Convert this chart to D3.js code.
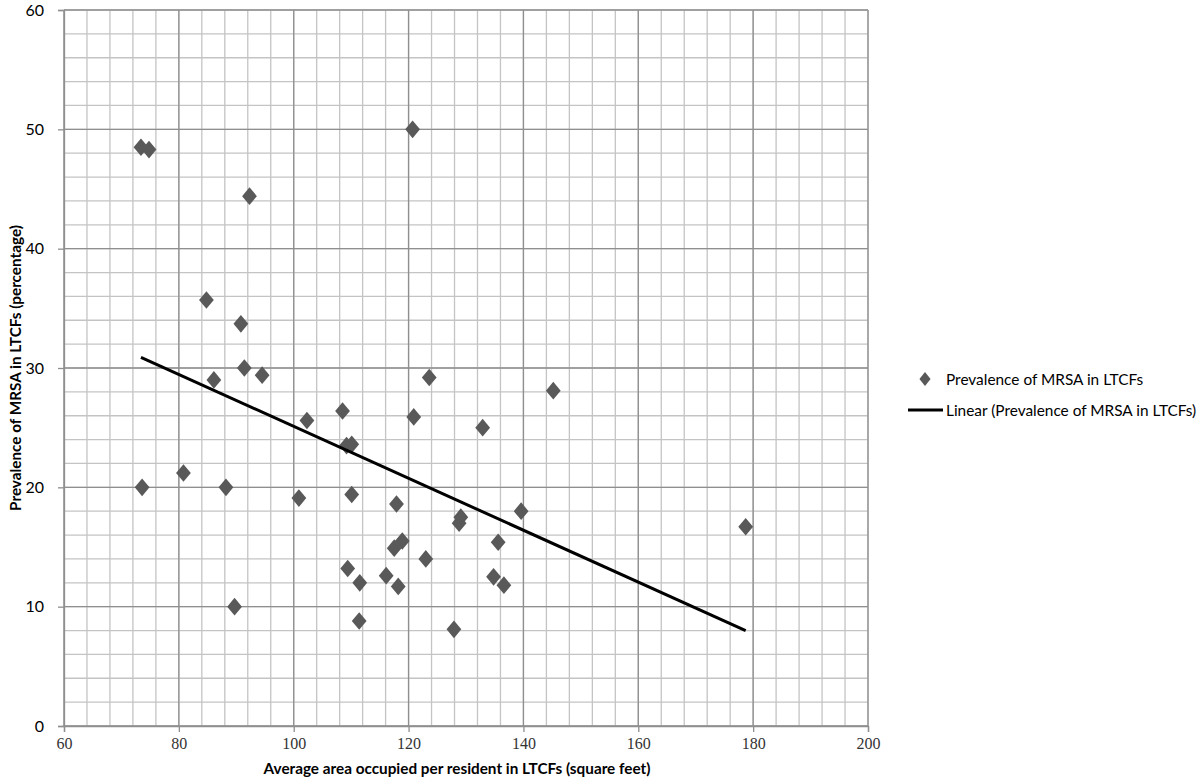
<!DOCTYPE html>
<html>
<head>
<meta charset="utf-8">
<script src="https://cdn.jsdelivr.net/npm/d3@7"></script>
<style>
  body { margin: 0; background: #fff; }
  svg { display: block; }
</style>
</head>
<body>
<svg id="chart" width="1200" height="780"></svg>
<script>
// area per resident (sq ft) and MRSA prevalence (%)
const areaValues = [73.4, 74.8, 120.7, 92.3, 84.8, 90.8, 91.4, 94.5, 86.1, 80.8,
  73.6, 88.2, 89.7, 123.6, 145.2, 102.3, 108.5, 120.9, 132.9, 109.2,
  110.1, 100.9, 110.1, 117.9, 139.6, 129.1, 128.8, 118.9, 117.5, 135.6,
  123.0, 109.4, 111.5, 116.1, 118.2, 134.8, 136.6, 111.4, 127.9, 178.7];
const prevalenceValues = [48.5, 48.3, 50.0, 44.4, 35.7, 33.7, 30.0, 29.4, 29.0, 21.2,
  20.0, 20.0, 10.0, 29.2, 28.1, 25.6, 26.4, 25.9, 25.0, 23.5,
  23.6, 19.1, 19.4, 18.6, 18.0, 17.5, 17.0, 15.5, 14.9, 15.4,
  14.0, 13.2, 12.0, 12.6, 11.7, 12.5, 11.8, 8.8, 8.1, 16.7];
const xTicks = [60, 80, 100, 120, 140, 160, 180, 200];
const yTicks = [0, 10, 20, 30, 40, 50, 60];
const seriesName = 'Prevalence of MRSA in LTCFs';
const trendName = 'Linear (Prevalence of MRSA in LTCFs)';

const svg = d3.select('#chart');
const pLeft = 64, pRight = 868, pTop = 10, pBottom = 726;

const x = d3.scaleLinear().domain([60, 200]).range([pLeft, pRight]);
const y = d3.scaleLinear().domain([0, 60]).range([pBottom, pTop]);

// minor grid (every 4 on x, every 2 on y)
const g = svg.append('g');
g.selectAll('.vmin').data(d3.range(60, 200.1, 4)).join('line')
  .attr('x1', d => x(d)).attr('x2', d => x(d))
  .attr('y1', pTop).attr('y2', pBottom)
  .attr('stroke', '#c4c4c4').attr('stroke-width', 1.3);
g.selectAll('.hmin').data(d3.range(0, 60.1, 2)).join('line')
  .attr('y1', d => y(d)).attr('y2', d => y(d))
  .attr('x1', pLeft).attr('x2', pRight)
  .attr('stroke', '#c4c4c4').attr('stroke-width', 1.3);
// major grid
g.selectAll('.vmaj').data(xTicks).join('line')
  .attr('x1', d => x(d)).attr('x2', d => x(d))
  .attr('y1', pTop).attr('y2', pBottom)
  .attr('stroke', '#8f8f8f').attr('stroke-width', 1.3);
g.selectAll('.hmaj').data(yTicks).join('line')
  .attr('y1', d => y(d)).attr('y2', d => y(d))
  .attr('x1', pLeft).attr('x2', pRight)
  .attr('stroke', '#8f8f8f').attr('stroke-width', 1.3);

// axes
const yAxis = svg.append('g').attr('transform', `translate(${pLeft},0)`)
  .call(d3.axisLeft(y).tickValues(yTicks).tickSize(6).tickPadding(14));
yAxis.select('.domain').attr('stroke', '#8f8f8f').attr('stroke-width', 1.3);
yAxis.selectAll('.tick line').attr('stroke', '#8f8f8f').attr('stroke-width', 1.3);
yAxis.selectAll('.tick text')
  .attr('font-family', 'Lato, sans-serif').attr('font-size', 16).attr('fill', '#000');

const xAxis = svg.append('g').attr('transform', `translate(0,${pBottom})`)
  .call(d3.axisBottom(x).tickValues(xTicks).tickSize(6).tickPadding(6));
xAxis.select('.domain').attr('stroke', '#8f8f8f').attr('stroke-width', 1.3);
xAxis.selectAll('.tick line').attr('stroke', '#8f8f8f').attr('stroke-width', 1.3);
xAxis.selectAll('.tick text')
  .attr('font-family', '"Liberation Serif", serif').attr('font-size', 16).attr('fill', '#333');

// points
const points = areaValues.map((a, i) => ({ a, p: prevalenceValues[i] }));
const diamond = d3.symbol().type(d3.symbolDiamond).size(90);
svg.append('g').selectAll('path').data(points).join('path')
  .attr('d', diamond)
  .attr('transform', d => `translate(${x(d.a)},${y(d.p)}) scale(1.45,1)`)
  .attr('fill', '#595959');

// least squares trendline
const mx = d3.mean(areaValues), my = d3.mean(prevalenceValues);
const slope = d3.sum(points, d => (d.a - mx) * (d.p - my)) / d3.sum(points, d => (d.a - mx) ** 2);
const icpt = my - slope * mx;
const ext = d3.extent(areaValues);
svg.append('path')
  .datum(ext.map(a => ({ a, p: icpt + slope * a })))
  .attr('d', d3.line().x(d => x(d.a)).y(d => y(d.p)))
  .attr('stroke', '#000').attr('stroke-width', 3).attr('fill', 'none');

// axis titles
svg.append('text')
  .attr('transform', `translate(15,${(pTop + pBottom) / 2}) rotate(-90)`)
  .attr('text-anchor', 'middle').attr('dominant-baseline', 'central')
  .attr('font-family', 'Lato, sans-serif').attr('font-weight', 'bold').attr('font-size', 15.3)
  .text('Prevalence of MRSA in LTCFs (percentage)');
svg.append('text')
  .attr('x', 457).attr('y', 768)
  .attr('text-anchor', 'middle').attr('dominant-baseline', 'central')
  .attr('font-family', 'Lato, sans-serif').attr('font-weight', 'bold').attr('font-size', 15.3)
  .text('Average area occupied per resident in LTCFs (square feet)');

// legend
const leg = svg.append('g').attr('font-family', 'Lato, sans-serif').attr('font-size', 15.4);
leg.append('path').attr('d', d3.symbol().type(d3.symbolDiamond).size(55))
  .attr('transform', 'translate(925,379) scale(1.4,1)').attr('fill', '#595959');
leg.append('text').attr('x', 946).attr('y', 379).attr('dominant-baseline', 'central').text(seriesName);
leg.append('line').attr('x1', 908).attr('x2', 943).attr('y1', 410).attr('y2', 410)
  .attr('stroke', '#000').attr('stroke-width', 3);
leg.append('text').attr('x', 946).attr('y', 410).attr('dominant-baseline', 'central').text(trendName);
</script>
</body>
</html>
